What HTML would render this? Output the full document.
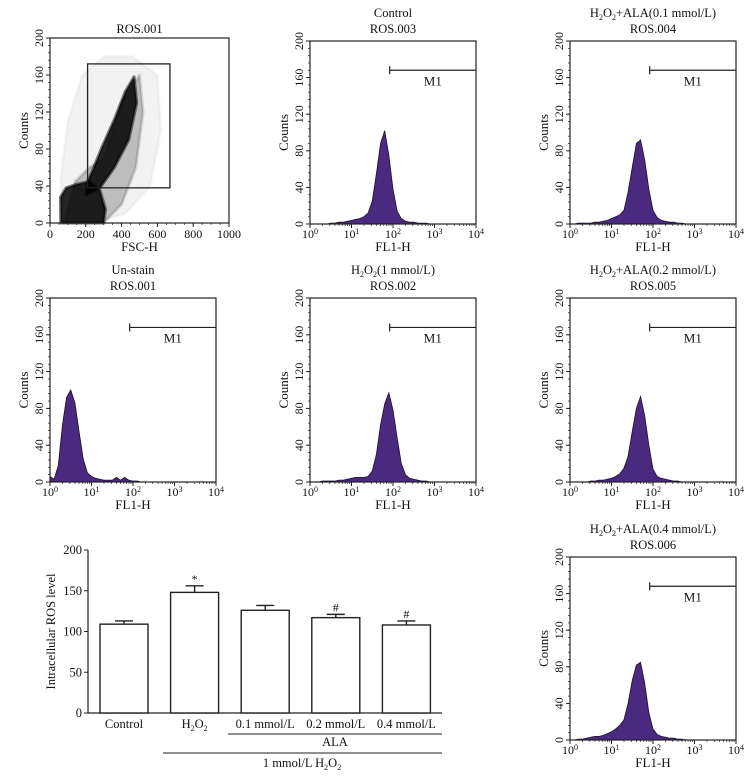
<!DOCTYPE html>
<html><head><meta charset="utf-8"><style>
html,body{margin:0;padding:0;background:#fff;}
svg{display:block;font-family:"Liberation Serif",serif;}
</style></head><body>
<svg id="fig" width="750" height="778" viewBox="0 0 750 778" xmlns="http://www.w3.org/2000/svg"></svg>
<script>
// ---- Data ----
// histogram counts at log10(FL1-H) = 0.0, 0.1, ... 4.0
const histControl = [0,0,0,0,0,1,1,2,2,3,4,5,6,8,12,25,55,88,102,75,38,14,6,3,2,2,1,1,1,0,0,0,0,0,0,0,0,0,0,0,0];
const histAla01   = [0,0,1,1,1,1,2,2,3,4,6,8,10,15,35,62,88,92,70,38,15,7,4,3,2,2,1,1,0,0,0,0,0,0,0,0,0,0,0,0,0];
const histUnstain = [6,3,18,62,92,100,86,55,25,10,6,4,3,2,2,2,5,2,5,2,1,1,0,0,0,0,0,0,0,0,0,0,0,0,0,0,0,0,0,0,0];
const histH2o2    = [0,0,0,1,1,1,1,2,2,3,4,5,5,5,6,12,30,62,85,97,78,48,20,8,4,3,2,1,1,0,0,0,0,0,0,0,0,0,0,0,0];
const histAla02   = [0,0,0,0,0,1,1,2,2,3,4,6,9,15,28,55,80,93,72,40,14,6,4,3,2,1,1,0,0,0,0,0,0,0,0,0,0,0,0,0,0];
const histAla04   = [0,0,1,1,2,3,4,4,5,7,9,12,16,22,40,65,82,85,62,30,12,6,4,3,2,2,1,1,0,0,0,0,0,0,0,0,0,0,0,0,0];
const countTicks = [0,40,80,120,160,200];
const fscTicks = [0,200,400,600,800,1000];
// scatter density regions (FSC-H, Counts)
const haloX = [70,60,100,180,300,460,600,620,560,420,250];
const haloY = [0,50,110,160,180,180,160,100,40,10,0];
const midX = [80,140,220,300,400,500,520,480,400,300];
const midY = [0,45,60,70,130,160,120,60,20,0];
const bandX = [200,280,360,440,485,470,420,360,290,240,210];
const bandY = [30,38,60,90,130,158,142,112,82,58,45];
const baseX = [60,58,90,150,220,280,310,300,60];
const baseY = [0,28,38,42,45,35,15,0,0];
const gateX = [210,670];
const gateY = [38,172];
// bar chart
const barCats = ["Control","H2O2","0.1 mmol/L","0.2 mmol/L","0.4 mmol/L"];
const barVals = [109,148,126,117,108];
const barErr  = [4,8,6,4,5];
const barMarks = ["","*","","#","#"];
const barTicks = [0,50,100,150,200];

const NS="http://www.w3.org/2000/svg";
const svg=document.getElementById('fig');
function mk(tag,attrs,parent){const e=document.createElementNS(NS,tag);for(const k in attrs)e.setAttribute(k,attrs[k]);(parent||svg).appendChild(e);return e;}
function txt(s,x,y,size,parent,anchor,rot){const t=mk('text',{x:x,y:y,'font-size':size,'text-anchor':anchor||'middle',fill:'#111'},parent);if(rot)t.setAttribute('transform','rotate(-90 '+x+' '+y+')');t.textContent=s;return t;}
const sub=s=>s.replace(/H2O2/,'H<tspan baseline-shift="-3" font-size="8">2</tspan>O<tspan baseline-shift="-3" font-size="8">2</tspan>');

function countAxis(g,L,T,B){
  const y=v=>B-(v/200)*(B-T);
  countTicks.forEach(v=>{mk('line',{x1:L-4,x2:L,y1:y(v),y2:y(v),stroke:'#222','stroke-width':1},g);
    txt(String(v),L-7,y(v),12,g,'middle',true);});
  for(let v=0;v<=200;v+=8){mk('line',{x1:L-2,x2:L,y1:y(v),y2:y(v),stroke:'#222','stroke-width':0.7},g);}
  const c=txt('Counts',L-22,(T+B)/2,13,g,'middle',true);
  
  return y;
}

function histPanel(name,L,T,B,titles,data){
  const R=L+166;
  const g=mk('g',{});
  
  
  titles.forEach((s,i)=>{const t=txt('',(L+R)/2,T-8-(titles.length-1-i)*16,12.5,g);t.innerHTML=s;
    });
  const y=countAxis(g,L,T,B);
  const x=d=>L+(d/4)*(R-L);
  let p='M'+x(0)+','+B;
  data.forEach((c,i)=>{p+=' L'+x(i*0.1).toFixed(2)+','+y(c).toFixed(2);});
  p+=' L'+x(4)+','+B+' Z';
  const h=mk('path',{d:p,fill:'#4a2a7e',stroke:'#1e0f33','stroke-width':0.8},g);
  
  
  mk('rect',{x:L,y:T,width:R-L,height:B-T,fill:'none',stroke:'#222','stroke-width':1.2},g);
  for(let d=0;d<=4;d++){mk('line',{x1:x(d),x2:x(d),y1:B,y2:B+4,stroke:'#222'},g);
    const t=txt('',x(d),B+14,12,g);t.innerHTML='10<tspan dy="-4" font-size="8">'+d+'</tspan>';
    for(let k=2;k<10&&d<4;k++){const xx=x(d+Math.log10(k));mk('line',{x1:xx,x2:xx,y1:B,y2:B+2,stroke:'#222','stroke-width':0.7},g);}}
  const xl=txt('FL1-H',(L+R)/2,B+27,13,g);
  
  const my=y(168), mx=x(1.92);
  const m=mk('g',{},g);
  
  
  mk('line',{x1:mx,x2:R,y1:my,y2:my,stroke:'#222','stroke-width':1.2},m);
  mk('line',{x1:mx,x2:mx,y1:my-4,y2:my+4,stroke:'#222','stroke-width':1.2},m);
  txt('M1',(mx+R)/2,my+15,13,m);
}

// ---- Scatter panel ----
(function(){
  const L=50,R=229,T=38,B=223;
  const g=mk('g',{});
  
  
  const t=txt('ROS.001',(L+R)/2,T-5,12.5,g);
  const y=countAxis(g,L,T,B);
  const x=v=>L+(v/1000)*(R-L);
  const poly=(xs,ys,fill,op,nm)=>{const pts=xs.map((v,i)=>x(v).toFixed(1)+','+y(ys[i]).toFixed(1)).join(' ');
    const p=mk('polygon',{points:pts,fill:fill,'fill-opacity':op,stroke:fill,'stroke-opacity':op*0.6,'stroke-width':3,'stroke-linejoin':'round'},g);
    };
  poly(haloX,haloY,'#000',0.05,'scatter-halo');
  poly(midX,midY,'#000',0.22,'scatter-mid');
  poly(bandX,bandY,'#000',0.85,'scatter-dense-band');
  poly(baseX,baseY,'#000',0.85,'scatter-dense-base');
  mk('rect',{x:L,y:T,width:R-L,height:B-T,fill:'none',stroke:'#222','stroke-width':1.2},g);
  const gate=mk('rect',{x:x(gateX[0]),y:y(gateY[1]),width:x(gateX[1])-x(gateX[0]),height:y(gateY[0])-y(gateY[1]),fill:'none',stroke:'#222','stroke-width':1.3},g);
  
  fscTicks.forEach(v=>{mk('line',{x1:x(v),x2:x(v),y1:B,y2:B+4,stroke:'#222'},g);txt(String(v),x(v),B+15,12,g);});
  for(let v=0;v<=1000;v+=50)mk('line',{x1:x(v),x2:x(v),y1:B,y2:B+2,stroke:'#222','stroke-width':0.7},g);
  const xl=txt('FSC-H',(L+R)/2,B+28,13,g);
})();

histPanel('control-histogram',310,41,224,['Control','ROS.003'],histControl);
histPanel('ala01-histogram',570,41,224,[sub('H2O2+ALA(0.1 mmol/L)'),'ROS.004'],histAla01);
histPanel('unstain-histogram',50,298,482,['Un-stain','ROS.001'],histUnstain);
histPanel('h2o2-histogram',310,298,482,[sub('H2O2(1 mmol/L)'),'ROS.002'],histH2o2);
histPanel('ala02-histogram',570,298,482,[sub('H2O2+ALA(0.2 mmol/L)'),'ROS.005'],histAla02);
histPanel('ala04-histogram',570,557,740,[sub('H2O2+ALA(0.4 mmol/L)'),'ROS.006'],histAla04);

// ---- Bar chart ----
(function(){
  const L=88,T=550,B=713,R=442;
  const g=mk('g',{});
  
  
  const y=v=>B-(v/200)*(B-T);
  const bw=48, step=70.6, x0=100;
  mk('line',{x1:L,x2:L,y1:T,y2:B,stroke:'#222','stroke-width':1.2},g);
  mk('line',{x1:L,x2:R,y1:B,y2:B,stroke:'#222','stroke-width':1.2},g);
  barTicks.forEach(v=>{mk('line',{x1:L-4,x2:L,y1:y(v),y2:y(v),stroke:'#222'},g);txt(String(v),L-6,y(v)+4,12.5,g,'end');});
  const yl=txt('Intracellular ROS level',55,(T+B)/2,12.5,g,'middle',true);
  
  barCats.forEach((c,i)=>{
    const bx=x0+i*step, cx=bx+bw/2;
    const b=mk('rect',{x:bx,y:y(barVals[i]),width:bw,height:B-y(barVals[i]),fill:'#fff',stroke:'#222','stroke-width':1.4},g);
    
    
    const et=y(barVals[i]+barErr[i]);
    mk('line',{x1:cx,x2:cx,y1:y(barVals[i]),y2:et,stroke:'#222','stroke-width':1.4},g);
    mk('line',{x1:cx-9,x2:cx+9,y1:et,y2:et,stroke:'#222','stroke-width':1.4},g);
    if(barMarks[i])txt(barMarks[i],cx,et-3,12,g);
    const lt=txt('',cx,728,12.5,g);
    lt.innerHTML=sub(c);
    
  });
  mk('line',{x1:228,x2:R,y1:734,y2:734,stroke:'#222','stroke-width':1},g);
  txt('ALA',335,746,12.5,g);
  mk('line',{x1:163,x2:R,y1:753,y2:753,stroke:'#222','stroke-width':1},g);
  const t=txt('',302,767,12.5,g);t.innerHTML='1 mmol/L '+sub('H2O2');
})();
</script>
</body></html>
